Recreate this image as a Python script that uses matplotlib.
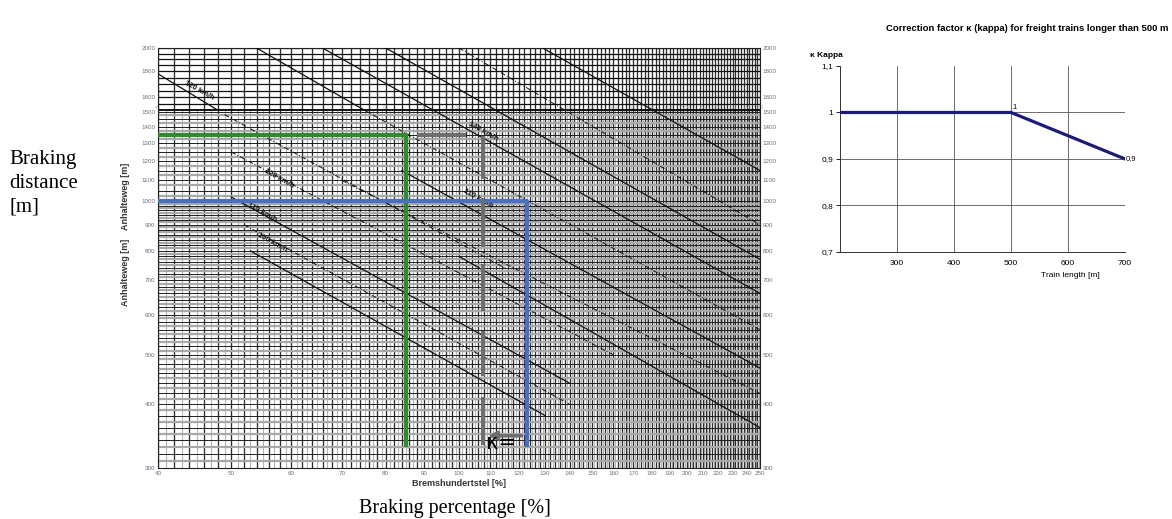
import matplotlib.pyplot as plt
from matplotlib.ticker import NullLocator, NullFormatter
import numpy as np

plt.rcParams['font.family'] = ['Liberation Sans', 'DejaVu Sans']

# --- nomogram: braking percentage vs braking distance ---
pct_ticks = [40, 50, 60, 70, 80, 90, 100, 110, 120, 130, 140, 150, 160, 170,
             180, 190, 200, 210, 220, 230, 240, 250]
dist_ticks = [300, 400, 500, 600, 700, 800, 900, 1000, 1100, 1200, 1300,
              1400, 1500, 1600, 1800, 2000]

# speed curves, start (pct, dist) -> end (pct, dist)
curve_pct0 = [40, 49, 54, 75, 66, 80, 100, 129, 50, 50, 52, 53, 84, 100, 70]
curve_dist0 = [1780, 1480, 2000, 1510, 2000, 2000, 2000, 2000, 1250, 1020, 900, 800, 1150, 780, 1100]
curve_pct1 = [48, 115, 75, 250, 250, 250, 250, 250, 160, 140, 140, 130, 250, 250, 250]
curve_dist1 = [1510, 740, 1510, 560, 660, 770, 900, 1150, 500, 440, 400, 380, 471, 360, 420]
curve_dashed = [False, True, False, True, False, False, True, False, True, False, True, False, False, False, True]

speed_labels = ['120 km/h', '140 km/h', '120 km/h', '110 km/h', '110 km/h', '100 km/h']
label_pct = [43.4, 103, 55.4, 101.5, 52.6, 54.2]
label_dist = [1707, 1424, 1150, 1050, 985, 860]

# worked example paths
green_pct = [40, 85, 85]
green_dist = [1350, 1350, 330]
blue_pct = [40, 123, 123]
blue_dist = [1000, 1000, 330]
grey_pct = [88, 102]
grey_dist = [1350, 1350]
grey_x = 107.6
grey_seg_top = [1347, 1013, 754, 556, 414]
grey_seg_bot = [1109, 815, 609, 454, 333]

# --- kappa correction ---
kappa_len = [200, 500, 700]
kappa_val = [1.0, 1.0, 0.9]

fig = plt.figure(figsize=(11.72, 5.19), dpi=100)
ax = fig.add_axes([0.1348, 0.0983, 0.5137, 0.8092])
ax.set_xscale('log')
ax.set_yscale('log')
ax.set_xlim(40, 250)
ax.set_ylim(300, 2000)

# grid
ax.vlines(np.arange(41, 251, 2), 300, 1510, colors='#b4b4b4', lw=0.8, zorder=1)
ax.vlines(np.arange(40, 251, 2), 300, 2000, colors='#2e2e2e', lw=0.95, zorder=1)
ax.hlines(np.arange(310, 1000, 20), 40, 250, colors='#a8a8a8', lw=1.6, zorder=1)
ax.hlines(np.arange(300, 1001, 20), 40, 250, colors='#1e1e1e', lw=0.7, zorder=1)
ax.hlines(np.arange(1025, 1500, 50), 40, 250, colors='#a8a8a8', lw=1.6, zorder=1)
ax.hlines(np.arange(1000, 1501, 50), 40, 250, colors='#1e1e1e', lw=0.7, zorder=1)
ax.hlines(np.arange(1550, 2001, 50), 40, 250, colors='#111111', lw=0.9, zorder=1)
ax.axhline(1510, color='black', lw=1.3, zorder=2)
for p in pct_ticks:
    ax.text(p, 1530, str(p), fontsize=3.5, color='#bbbbbb', ha='center', va='center', zorder=2)

# speed curves
for x0, y0, x1, y1, d in zip(curve_pct0, curve_dist0, curve_pct1, curve_dist1, curve_dashed):
    ax.plot([x0, x1], [y0, y1], color='#111111', lw=0.9 if not d else 0.7,
            ls=(0, (5, 2, 1, 2)) if d else '-', zorder=3)

fig.canvas.draw()
for txt, x, y in zip(speed_labels, label_pct, label_dist):
    p0 = ax.transData.transform((x, y))
    p1 = ax.transData.transform((x * 1.2, y * 1.2 ** -0.82))
    ang = np.degrees(np.arctan2(p1[1] - p0[1], p1[0] - p0[0]))
    ax.text(x, y, txt, fontsize=5.5, rotation=ang, rotation_mode='anchor',
            ha='left', va='center', color='#111111', fontweight='bold', zorder=4)

# example paths
ax.plot(green_pct, green_dist, color='#2e8b2e', lw=3, zorder=5, solid_capstyle='butt')
ax.plot(blue_pct, blue_dist, color='#4a6fc0', lw=3, zorder=5, solid_capstyle='butt')
ax.plot(grey_pct, grey_dist, color='#6e6e6e', lw=3, zorder=5, solid_capstyle='butt')
ax.vlines([grey_x] * len(grey_seg_top), grey_seg_bot, grey_seg_top, colors='#6e6e6e', lw=3, zorder=5)
ax.annotate('', xy=(108.3, 347), xytext=(122, 347),
            arrowprops=dict(arrowstyle='-|>', color='#6e6e6e', lw=2.5, mutation_scale=12), zorder=6)
ax.text(108.6, 336, 'κ=', fontsize=15, ha='left', va='center', color='black',
        family=['DejaVu Sans'], zorder=7)

# ticks
ax.xaxis.set_minor_locator(NullLocator())
ax.yaxis.set_minor_locator(NullLocator())
ax.xaxis.set_minor_formatter(NullFormatter())
ax.yaxis.set_minor_formatter(NullFormatter())
ax.set_xticks(pct_ticks, [str(p) for p in pct_ticks])
ax.set_yticks(dist_ticks, [str(d) for d in dist_ticks])
ax.tick_params(axis='both', length=0, labelsize=4.5, labelcolor='#6a7080', pad=2)
ax.tick_params(axis='y', labelright=True)
for s in ax.spines.values():
    s.set_linewidth(0.8)
    s.set_color('#222222')

ax.set_xlabel('Bremshundertstel [%]', fontsize=6.5, fontweight='bold', color='#333333', labelpad=2)
fig.text(0.1067, 1 - 272 / 519, 'Anhalteweg [m]', rotation=90, fontsize=6.5,
         fontweight='bold', color='#333333', ha='center', va='center')
fig.text(0.1067, 1 - 196 / 519, 'Anhalteweg [m]', rotation=90, fontsize=6.5,
         fontweight='bold', color='#333333', ha='center', va='center')

# outer labels
fig.text(0.008, 0.647, 'Braking\ndistance\n[m]', fontsize=15, family=['Liberation Serif'],
         ha='left', va='center', linespacing=1.35)
fig.text(0.388, 0.021, 'Braking percentage [%]', fontsize=14.5, family=['Liberation Serif'],
         ha='center', va='center')

# --- kappa chart ---
ax2 = fig.add_axes([0.7167, 0.5145, 0.2432, 0.3584])
for gx in [300, 400, 500, 600, 700]:
    ax2.axvline(gx, color='#555555', lw=0.6, zorder=1)
for gy in [0.8, 0.9, 1.0]:
    ax2.axhline(gy, color='#555555', lw=0.6, zorder=1)
ax2.plot(kappa_len, kappa_val, color='#1c1c78', lw=2.3, zorder=3)
ax2.text(503, 1.004, '1', fontsize=5.5, ha='left', va='bottom')
ax2.text(702, 0.9, '0,9', fontsize=5.5, ha='left', va='center')
ax2.set_xlim(200, 700)
ax2.set_ylim(0.7, 1.1)
ax2.set_xticks([300, 400, 500, 600, 700])
ax2.set_yticks([0.7, 0.8, 0.9, 1.0, 1.1], ['0,7', '0,8', '0,9', '1', '1,1'])
ax2.tick_params(axis='x', length=0, labelsize=6, pad=6)
ax2.tick_params(axis='y', length=3, width=0.6, labelsize=6, pad=2)
ax2.spines['top'].set_visible(False)
ax2.spines['right'].set_visible(False)
for s in ['left', 'bottom']:
    ax2.spines[s].set_linewidth(0.7)
    ax2.spines[s].set_color('#333333')

fig.text(0.913, 0.470, 'Train length [m]', fontsize=6, ha='center', va='center')
fig.text(0.691, 0.894, 'κ Kappa', fontsize=6, fontweight='bold', ha='left', va='center')
fig.text(0.9966, 0.946, 'Correction factor κ (kappa) for freight trains longer than 500 m',
         fontsize=6.8, fontweight='bold', ha='right', va='center')

fig.savefig('out.png', dpi=100)
